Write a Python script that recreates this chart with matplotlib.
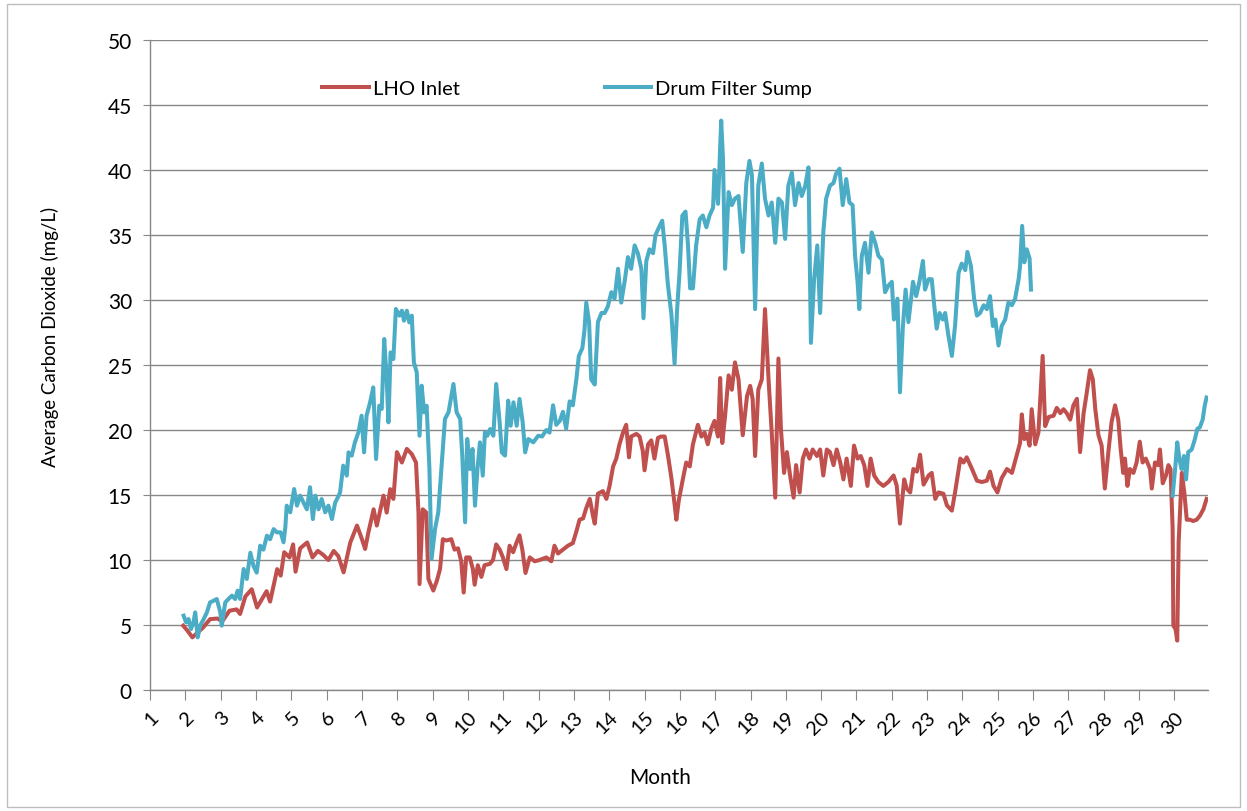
import matplotlib
matplotlib.use("Agg")
import matplotlib.pyplot as plt
import matplotlib.patches as patches
import numpy as np

plt.rcParams['font.family'] = ['Lato', 'DejaVu Sans']

# LHO Inlet - average CO2 (mg/L) by month
lho_month = [
    1.94, 2.05, 2.2, 2.3, 2.5, 2.7, 2.9, 3.05, 3.25, 3.45, 3.55, 3.7, 3.88, 4.03, 4.17, 4.3, 4.4,
    4.6, 4.7, 4.8, 4.95, 5.05, 5.12, 5.25, 5.45, 5.6, 5.75, 5.9, 6.05, 6.2, 6.33, 6.48, 6.67,
    6.86, 7.0, 7.09, 7.18, 7.33, 7.42, 7.61, 7.7, 7.8, 7.89, 7.99, 8.13, 8.27, 8.41, 8.53, 8.6,
    8.63, 8.72, 8.82, 8.88, 9.02, 9.12, 9.21, 9.29, 9.39, 9.53, 9.62, 9.72, 9.81, 9.88, 9.95,
    10.05, 10.14, 10.19, 10.28, 10.38, 10.47, 10.62, 10.71, 10.8, 10.9, 10.99, 11.09, 11.18,
    11.28, 11.37, 11.46, 11.54, 11.63, 11.75, 11.89, 12.03, 12.22, 12.36, 12.45, 12.55, 12.69,
    12.83, 12.97, 13.07, 13.16, 13.26, 13.35, 13.45, 13.54, 13.59, 13.68, 13.82, 13.92, 14.01,
    14.11, 14.2, 14.29, 14.39, 14.48, 14.56, 14.62, 14.77, 14.86, 14.95, 15.0, 15.1, 15.19,
    15.28, 15.38, 15.47, 15.57, 15.66, 15.76, 15.85, 15.9, 15.97, 16.09, 16.18, 16.28, 16.37,
    16.51, 16.61, 16.7, 16.79, 16.89, 16.98, 17.08, 17.14, 17.2, 17.28, 17.38, 17.47, 17.56,
    17.66, 17.78, 17.9, 17.99, 18.06, 18.13, 18.22, 18.32, 18.41, 18.51, 18.6, 18.7, 18.79,
    18.86, 18.95, 19.03, 19.12, 19.22, 19.29, 19.39, 19.48, 19.57, 19.67, 19.76, 19.88, 19.97,
    20.06, 20.16, 20.25, 20.35, 20.44, 20.54, 20.63, 20.72, 20.84, 20.93, 21.03, 21.12, 21.22,
    21.31, 21.4, 21.5, 21.62, 21.76, 21.9, 22.05, 22.14, 22.23, 22.35, 22.42, 22.52, 22.61,
    22.71, 22.8, 22.9, 23.04, 23.13, 23.23, 23.32, 23.46, 23.56, 23.7, 23.79, 23.94, 24.03,
    24.12, 24.27, 24.41, 24.55, 24.69, 24.78, 24.88, 24.99, 25.11, 25.26, 25.4, 25.54, 25.63,
    25.68, 25.75, 25.82, 25.9, 25.96, 26.06, 26.15, 26.27, 26.34, 26.44, 26.58, 26.67, 26.77,
    26.86, 26.95, 27.05, 27.14, 27.24, 27.33, 27.43, 27.52, 27.61, 27.69, 27.76, 27.85, 27.94,
    28.03, 28.13, 28.22, 28.32, 28.41, 28.48, 28.55, 28.6, 28.67, 28.74, 28.84, 28.93, 29.02,
    29.1, 29.19, 29.31, 29.36, 29.45, 29.54, 29.59, 29.67, 29.76, 29.83, 29.89, 29.95, 29.97,
    30.03, 30.08, 30.12, 30.21, 30.28, 30.35, 30.44, 30.53, 30.63, 30.72, 30.82, 30.91,
]
lho_co2 = [
    4.95, 4.6, 4.05, 4.3, 4.8, 5.45, 5.5, 5.3, 6.1, 6.2, 5.85, 7.2, 7.75, 6.35, 7.0, 7.6, 6.8,
    9.3, 8.8, 10.6, 10.2, 11.2, 9.1, 10.9, 11.35, 10.2, 10.7, 10.4, 10.0, 10.7, 10.3, 9.05, 11.35,
    12.65, 11.6, 10.85, 12.1, 13.9, 12.65, 14.95, 13.65, 15.45, 14.7, 18.3, 17.5, 18.55, 18.15, 17.5, 13.65,
    8.15, 13.9, 13.65, 8.55, 7.65, 8.4, 9.3, 11.6, 11.5, 11.6, 10.8, 10.9, 9.9, 7.5, 10.2,
    10.2, 9.3, 8.1, 9.6, 8.7, 9.6, 9.7, 10.0, 11.2, 10.8, 10.2, 9.3, 11.1,
    10.6, 11.3, 11.9, 10.8, 9.0, 10.2, 9.9, 10.0, 10.2, 9.9, 11.1, 10.5, 10.8,
    11.1, 11.3, 12.2, 13.1, 13.2, 14.0, 14.7, 13.4, 12.8, 15.1, 15.3, 14.7, 15.7,
    17.2, 17.8, 18.9, 19.8, 20.4, 17.9, 19.5, 19.7, 19.5, 18.4, 16.9, 18.9, 19.2,
    17.8, 19.4, 19.5, 19.5, 18.1, 16.3, 14.3, 13.1, 14.6, 16.3, 17.5, 17.2, 18.9,
    20.4, 19.5, 19.8, 18.9, 20.1, 20.7, 19.5, 24.0, 19.0, 21.1, 24.2, 23.1, 25.2,
    23.9, 19.6, 22.6, 23.4, 22.4, 18.0, 23.1, 23.9, 29.3, 23.9, 19.8, 14.8, 25.5,
    20.1, 16.7, 18.3, 16.5, 14.8, 17.3, 15.2, 17.8, 18.5, 17.8, 18.5, 18.0, 18.5,
    16.5, 18.5, 18.3, 17.3, 18.5, 17.5, 16.2, 17.8, 15.7, 18.8, 17.8, 18.0, 17.3,
    15.7, 17.8, 16.5, 16.0, 15.7, 16.0, 16.5, 15.7, 12.8, 16.2, 15.5, 15.2, 17.0,
    16.8, 18.1, 15.8, 16.5, 16.7, 14.7, 15.2, 15.1, 14.2, 13.8, 15.2, 17.8, 17.5,
    17.9, 17.0, 16.1, 16.0, 16.1, 16.8, 15.7, 15.2, 16.3, 17.0, 16.7, 18.1, 19.0,
    21.2, 19.3, 19.7, 18.8, 21.6, 18.9, 19.8, 25.7, 20.3, 21.0, 21.1, 21.7, 21.3,
    21.6, 21.3, 20.8, 21.9, 22.4, 18.3, 21.3, 22.9, 24.6, 23.9, 21.6, 19.6, 18.8,
    15.5, 18.3, 20.6, 21.9, 20.8, 18.5, 16.7, 17.8, 15.7, 17.0, 16.7, 17.5, 19.1,
    17.5, 17.8, 17.0, 15.5, 17.5, 17.3, 18.5, 15.9, 16.5, 17.3, 17.0, 12.4, 4.95,
    4.7, 3.8, 11.4, 16.7, 15.2, 13.1, 13.1, 13.0, 13.1, 13.4, 13.9, 14.7,
]

# Drum Filter Sump - first run of readings
sump_month = [
    1.95, 2.02, 2.09, 2.16, 2.23, 2.28, 2.35, 2.42, 2.52, 2.61, 2.7, 2.8, 2.89, 2.99, 3.03,
    3.13, 3.22, 3.32, 3.41, 3.48, 3.55, 3.65, 3.74, 3.84, 3.93, 4.02, 4.12, 4.21, 4.31, 4.4,
    4.5, 4.59, 4.7, 4.78, 4.83, 4.87, 4.97, 5.08, 5.16, 5.25, 5.35, 5.44, 5.53, 5.61, 5.68,
    5.77, 5.86, 5.96, 6.05, 6.15, 6.24, 6.34, 6.38, 6.47, 6.57, 6.62, 6.71, 6.8, 6.9, 6.99,
    7.06, 7.13, 7.23, 7.32, 7.4, 7.49, 7.56, 7.63, 7.7, 7.75, 7.81, 7.89, 7.96, 8.06, 8.13,
    8.19, 8.27, 8.34, 8.41, 8.47, 8.55, 8.63, 8.69, 8.76, 8.83, 8.91, 8.97, 9.07, 9.16, 9.26,
    9.35, 9.45, 9.59, 9.68, 9.78, 9.84, 9.92, 9.98, 10.06, 10.13, 10.2, 10.27, 10.34, 10.42,
    10.48, 10.55, 10.63, 10.72, 10.8, 10.89, 10.96, 11.05, 11.14, 11.21, 11.29, 11.38, 11.46,
    11.55, 11.62, 11.71, 11.85, 11.99, 12.1, 12.22, 12.31, 12.41, 12.5, 12.6, 12.69, 12.78,
    12.88, 12.97, 13.07, 13.14, 13.24, 13.3, 13.35, 13.43, 13.49, 13.59, 13.68, 13.78, 13.87,
    13.96, 14.06, 14.15, 14.25, 14.34, 14.44, 14.53, 14.62, 14.72, 14.81, 14.91, 14.97, 15.05,
    15.14, 15.24, 15.31, 15.41, 15.5, 15.57, 15.66, 15.76, 15.85, 15.92, 15.99, 16.07, 16.16,
    16.23, 16.29, 16.37, 16.46, 16.56, 16.65, 16.75, 16.84, 16.94, 16.98, 17.08, 17.17, 17.22,
    17.28, 17.38, 17.47, 17.56, 17.66, 17.78, 17.88, 17.97, 18.04, 18.13, 18.22, 18.32, 18.41,
    18.51, 18.6, 18.7, 18.79, 18.89, 18.98, 19.07, 19.17, 19.26, 19.36, 19.45, 19.55, 19.64,
    19.71, 19.8, 19.89, 19.97, 20.06, 20.14, 20.25, 20.35, 20.42, 20.52, 20.61, 20.71, 20.8,
    20.89, 20.96, 21.03, 21.08, 21.15, 21.24, 21.34, 21.43, 21.53, 21.62, 21.72, 21.81, 21.9,
    22.0, 22.06, 22.16, 22.23, 22.31, 22.39, 22.47, 22.6, 22.69, 22.78, 22.88, 22.94, 23.04,
    23.13, 23.2, 23.27, 23.35, 23.44, 23.51, 23.6, 23.7, 23.79, 23.89, 23.98, 24.08, 24.14,
    24.24, 24.33, 24.41, 24.5, 24.6, 24.69, 24.78, 24.86, 24.93, 25.02, 25.11, 25.21, 25.3,
    25.4, 25.49, 25.59, 25.63, 25.69, 25.75, 25.82, 25.9, 25.94,
]
sump_co2 = [
    5.72, 5.21, 5.46, 4.69, 5.21, 5.97, 4.05, 4.95, 5.46, 5.97, 6.74, 6.87, 7.0, 5.97, 4.95,
    6.74, 7.0, 7.26, 7.0, 7.64, 7.0, 9.31, 8.54, 10.56, 9.54, 9.03, 11.1, 10.8, 11.87, 11.6,
    12.38, 12.13, 12.13, 11.36, 12.5, 14.18, 13.67, 15.46, 14.18, 14.95, 14.4, 13.9, 15.6, 13.15, 14.95,
    13.9, 14.69, 13.67, 14.18, 13.15, 14.4, 14.95, 15.2, 17.26, 16.49, 18.28, 18.03, 19.05, 19.82, 21.1,
    18.28, 21.1, 22.13, 23.28, 17.77, 21.87, 21.62, 27.0, 23.92, 20.59, 25.97, 25.46, 29.31, 28.8, 29.18,
    28.41, 29.18, 28.28, 28.8, 25.21, 24.44, 19.56, 23.41, 21.36, 21.87, 17.0, 10.08, 12.39, 13.67, 17.51,
    20.85, 21.36, 23.54, 21.36, 20.85, 18.03, 12.9, 19.31, 17.0, 18.54, 14.18, 17.0, 19.05, 16.49,
    19.82, 19.56, 20.08, 19.56, 23.54, 20.85, 18.28, 18.03, 22.26, 20.33, 22.13, 20.33, 22.39,
    20.59, 18.28, 19.31, 19.05, 19.56, 19.5, 20.0, 19.8, 21.9, 20.4, 20.7, 21.4, 20.1,
    22.2, 21.9, 23.9, 25.7, 26.3, 27.7, 29.8, 28.3, 23.9, 23.5, 28.3, 29.0, 29.0,
    29.5, 30.6, 30.1, 32.4, 29.8, 31.5, 33.3, 32.4, 34.2, 33.6, 32.4, 28.6, 33.0,
    33.9, 33.6, 35.0, 35.6, 36.1, 34.2, 31.2, 28.9, 25.1, 29.2, 32.1, 36.5, 36.8,
    34.2, 30.9, 30.9, 34.2, 36.2, 36.5, 35.6, 36.5, 37.1, 40.0, 37.4, 43.8, 40.9,
    32.4, 38.3, 37.3, 37.8, 38.0, 33.7, 39.0, 40.7, 39.6, 29.3, 38.8, 40.5, 37.8,
    36.5, 37.5, 34.4, 37.8, 37.5, 34.7, 38.8, 39.8, 37.3, 39.0, 38.0, 38.8, 40.2,
    26.7, 31.6, 34.2, 29.0, 35.2, 37.8, 38.8, 39.0, 39.7, 40.1, 37.3, 39.3, 37.5,
    37.3, 33.4, 31.4, 29.3, 33.4, 34.4, 32.1, 35.2, 34.4, 33.4, 33.1, 30.6, 31.1,
    31.4, 28.5, 30.1, 22.9, 27.8, 30.8, 28.3, 31.4, 30.3, 31.4, 33.0, 30.8, 31.6,
    31.6, 29.6, 27.8, 29.0, 28.5, 29.0, 27.3, 25.7, 28.0, 32.1, 32.8, 32.3, 33.7,
    32.6, 30.1, 28.8, 29.0, 29.6, 29.3, 30.3, 28.0, 28.5, 26.5, 28.0, 28.5, 29.8,
    29.6, 30.1, 31.6, 32.6, 35.7, 32.9, 33.9, 33.2, 30.8,
]

# Drum Filter Sump - readings resume at the end of the record
sump_month_late = [29.95, 30.03, 30.08, 30.14, 30.2, 30.27, 30.33, 30.39, 30.49, 30.58,
                   30.65, 30.72, 30.8, 30.86, 30.91]
sump_co2_late = [14.95, 17.3, 19.05, 17.8, 17.0, 18.0, 16.2, 18.3, 18.5, 19.3,
                 20.1, 20.2, 20.8, 21.9, 22.5]

month_ticks = list(range(1, 31))

red = '#C0504D'
teal = '#4BACC6'
grey = '#878787'

fig = plt.figure(figsize=(12.47, 8.12), dpi=100)
ax = fig.add_axes([0.1203, 0.149, 0.8484, 0.8005])

# outer chart border
fig.patches.append(patches.Rectangle((0.006, 0.005), 0.988, 0.989, transform=fig.transFigure,
                                     fill=False, edgecolor='#BEBEBE', linewidth=1.0))

lw = 2.9
ax.plot(lho_month, lho_co2, color=red, linewidth=lw, label='LHO Inlet', solid_joinstyle='round')
ax.plot(sump_month, sump_co2, color=teal, linewidth=lw, label='Drum Filter Sump', solid_joinstyle='round')
ax.plot(sump_month_late, sump_co2_late, color=teal, linewidth=lw, solid_joinstyle='round')

ax.set_xlim(1, 30.95)
ax.set_ylim(0, 50)
ax.set_yticks(np.arange(0, 51, 5))
ax.set_xticks(month_ticks)
ax.set_xticklabels([str(m) for m in month_ticks], rotation=45, ha='right',
                   rotation_mode='anchor', fontsize=14.5)
ax.tick_params(axis='y', labelsize=15, length=5, color=grey, pad=8)
ax.tick_params(axis='x', length=7, color=grey, pad=6)

ax.grid(axis='y', color=grey, linewidth=1.0)
ax.set_axisbelow(True)
for side in ['top', 'right']:
    ax.spines[side].set_visible(False)
for side in ['left', 'bottom']:
    ax.spines[side].set_color(grey)
    ax.spines[side].set_linewidth(1.0)

ax.set_xlabel('Month', fontsize=15)
ax.set_ylabel('Average Carbon Dioxide (mg/L)', fontsize=13.5)
ax.xaxis.set_label_coords(0.482, -0.118)
ax.yaxis.set_label_coords(-0.086, 0.545)

ax.legend(loc='center left', bbox_to_anchor=(0.163, 0.926), ncol=2, frameon=False,
          fontsize=14.5, handlelength=2.3, handletextpad=0.2, columnspacing=7.2,
          borderpad=0, borderaxespad=0)

plt.savefig('out.png', dpi=100)
